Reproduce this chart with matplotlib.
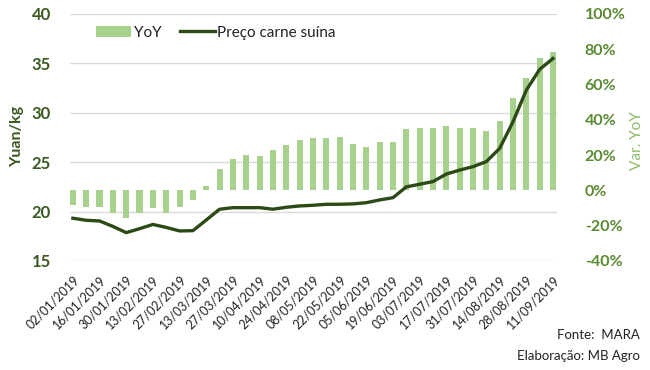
import matplotlib
matplotlib.use("Agg")
import matplotlib.pyplot as plt
from matplotlib.ticker import FuncFormatter
import numpy as np

dates = ["02/01/2019", "09/01/2019", "16/01/2019", "23/01/2019", "30/01/2019",
         "06/02/2019", "13/02/2019", "20/02/2019", "27/02/2019", "06/03/2019",
         "13/03/2019", "20/03/2019", "27/03/2019", "03/04/2019", "10/04/2019",
         "17/04/2019", "24/04/2019", "01/05/2019", "08/05/2019", "15/05/2019",
         "22/05/2019", "29/05/2019", "05/06/2019", "12/06/2019", "19/06/2019",
         "26/06/2019", "03/07/2019", "10/07/2019", "17/07/2019", "24/07/2019",
         "31/07/2019", "07/08/2019", "14/08/2019", "21/08/2019", "28/08/2019",
         "04/09/2019", "11/09/2019"]

yoy = [-8.0, -9.5, -9.5, -13.0, -15.5, -12.7, -9.8, -12.7, -9.5, -5.3,
       2.5, 11.9, 18.0, 20.3, 19.3, 22.7, 25.6, 28.8, 29.7, 29.7,
       30.3, 26.1, 24.8, 27.5, 27.5, 35.0, 35.6, 35.6, 36.4, 35.6,
       35.6, 33.7, 39.2, 52.1, 64.0, 74.8, 78.2]

price = [19.33, 19.12, 19.05, 18.5, 17.87, 18.27, 18.7, 18.4, 18.04, 18.07,
         19.15, 20.24, 20.4, 20.4, 20.4, 20.24, 20.44, 20.57, 20.64, 20.74,
         20.74, 20.78, 20.9, 21.18, 21.41, 22.5, 22.77, 23.04, 23.8, 24.2,
         24.55, 25.06, 26.4, 29.1, 32.3, 34.4, 35.5]

left_ticks = [15, 20, 25, 30, 35, 40]
right_ticks = [-40, -20, 0, 20, 40, 60, 80, 100]

FONT = ["Lato", "DejaVu Sans"]
plt.rcParams['font.family'] = FONT

BAR = "#a9d18e"
LINE = "#2b4a16"
LEFTC = "#3a5a22"
RIGHTC = "#5a8a32"

fig = plt.figure(figsize=(6.5, 3.7), dpi=100)
ax = fig.add_axes([0.108, 0.2946, 0.749, 0.6676])
ax2 = ax.twinx()

x = np.arange(len(dates))

# bars on the right (percent) axis
ax2.bar(x, [v / 100 for v in yoy], width=0.46, color=BAR, zorder=2, label="YoY")
ax2.set_ylim(-0.40, 1.00)
ax2.set_yticks([t / 100 for t in right_ticks])
ax2.yaxis.set_major_formatter(FuncFormatter(lambda v, p: f"{v*100:.0f}%"))

# line on left axis, drawn on top
ax.set_zorder(ax2.get_zorder() + 1)
ax.patch.set_visible(False)
ax.plot(x, price, color=LINE, lw=2.4, zorder=3, label="Preço carne suína",
        solid_joinstyle="round")
ax.set_ylim(15, 40)
ax.set_yticks(left_ticks)
ax.set_xlim(-0.2, 36.3)

# gridlines (left axis) drawn behind bars
for t in left_ticks:
    ax2.axhline(((t - 15) / 25) * 1.40 - 0.40, color="#d9d9d9", lw=1.0, zorder=0)

for a in (ax, ax2):
    for s in a.spines.values():
        s.set_visible(False)
    a.tick_params(length=0)

ax.set_xticks(x[::2])
ax.set_xticklabels(dates[::2], rotation=45, ha="right", rotation_mode="anchor",
                   fontsize=9, color="#222222")
ax.tick_params(axis="x", pad=9)
ax.tick_params(axis="y", labelsize=12, labelcolor=LEFTC, pad=14)
for lbl in ax.get_yticklabels():
    lbl.set_fontweight("bold")
ax2.tick_params(axis="y", labelsize=11.5, labelcolor=RIGHTC, pad=20)
for lbl in ax2.get_yticklabels():
    lbl.set_fontweight("bold")

fig.text(0.027, 0.63, "Yuan/kg", rotation=90, ha="center", va="center",
         fontsize=11.5, color=LEFTC, fontweight="bold")
fig.text(0.98, 0.62, "Var. YoY", rotation=90, ha="center", va="center",
         fontsize=11, color="#8dbb6a")

h1, l1 = ax2.get_legend_handles_labels()
h2, l2 = ax.get_legend_handles_labels()
leg = ax.legend(h1 + h2, l1 + l2, loc="center left", bbox_to_anchor=(0.025, 0.925),
                ncol=2, frameon=False, fontsize=11, handlelength=2.3,
                handletextpad=0.15, columnspacing=1.2)
for t in leg.get_texts():
    t.set_color("#222222")

fig.text(0.985, 0.095, "Fonte:  MARA", ha="right", va="center", fontsize=9.5, color="#222222")
fig.text(0.985, 0.038, "Elaboração: MB Agro", ha="right", va="center", fontsize=9.5, color="#222222")

fig.savefig("out.png", dpi=100)
